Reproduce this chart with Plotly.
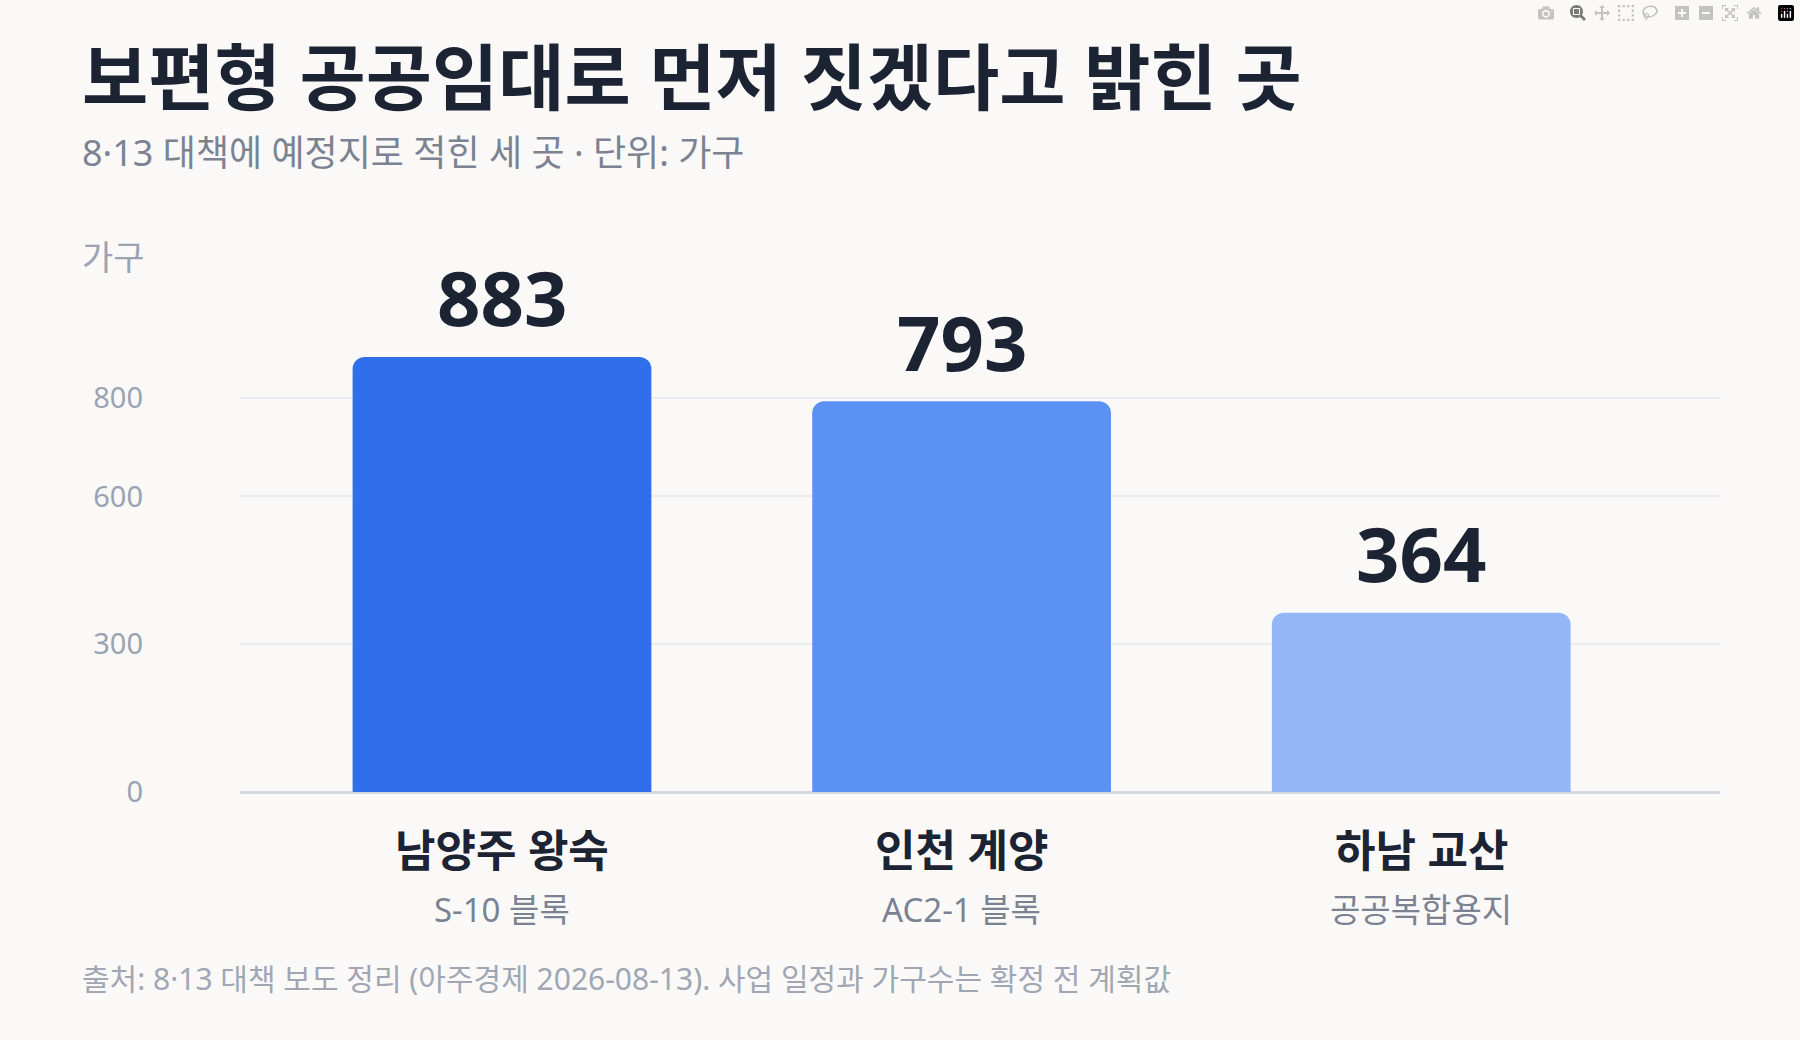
import plotly.graph_objects as go

categories = ["남양주 왕숙", "인천 계양", "하남 교산"]
subtitles = ["S-10 블록", "AC2-1 블록", "공공복합용지"]
values = [883, 793, 364]
colors = ["#2f6fec", "#5b91f5", "#93b6f7"]
tick_vals = [0, 300, 600, 800]

FONT = "Noto Sans, Noto Sans CJK KR"
T, B = 250, 248
PH = 1040 - T - B

fig = go.Figure(go.Bar(
    x=[0, 1, 2], y=values, width=0.65,
    marker=dict(color=colors, cornerradius=12, line=dict(width=0)),
    hoverinfo="skip",
))
fig.update_layout(
    width=1800, height=1040,
    paper_bgcolor="#faf9f8", plot_bgcolor="#faf9f8",
    margin=dict(l=240, r=80, t=T, b=B),
    showlegend=False, font=dict(family=FONT),
    xaxis=dict(range=[-0.57, 2.65], showticklabels=False, showgrid=False, showline=False, zeroline=False),
    yaxis=dict(range=[0, 1100], tickvals=tick_vals, showgrid=True, gridcolor="#e9edf3", gridwidth=2,
               zeroline=True, zerolinecolor="#d3dae4", zerolinewidth=3, showline=False,
               tickfont=dict(size=29, color="#9aa3b2"), ticklabelstandoff=96),
)

def add(text, x, y, size, color, xanchor="left", xref="paper"):
    xp = (x - 240) / (1800 - 320) if xref == "paper" else x
    fig.add_annotation(text=text, x=xp, xref=xref, y=(1040 - B - y) / PH, yref="paper",
                       showarrow=False, xanchor=xanchor, yanchor="middle",
                       font=dict(size=size, color=color, family=FONT))

add("<b>보편형 공공임대로 먼저 짓겠다고 밝힌 곳</b>", 80, 76, 72, "#1c2333")
add("8·13 대책에 예정지로 적힌 세 곳 · 단위: 가구", 80, 152, 36, "#7b8393")
add("가구", 80, 257, 34, "#9aa3b2")
add("출처: 8·13 대책 보도 정리 (아주경제 2026-08-13). 사업 일정과 가구수는 확정 전 계획값", 80, 979, 30, "#a0a7b3")
for i, (c, s, v) in enumerate(zip(categories, subtitles, values)):
    add("<b>" + c + "</b>", i, 850, 44, "#1c2333", "center", "x")
    add(s, i, 909, 33, "#7b8393", "center", "x")
    fig.add_annotation(text="<b>" + str(v) + "</b>", x=i, y=v, xref="x", yref="y", yshift=60,
                       showarrow=False, yanchor="middle",
                       font=dict(size=76, color="#1c2333", family=FONT))

fig.write_html("out.html", post_script="document.body.style.margin='0';document.body.style.background='#faf9f8';")
